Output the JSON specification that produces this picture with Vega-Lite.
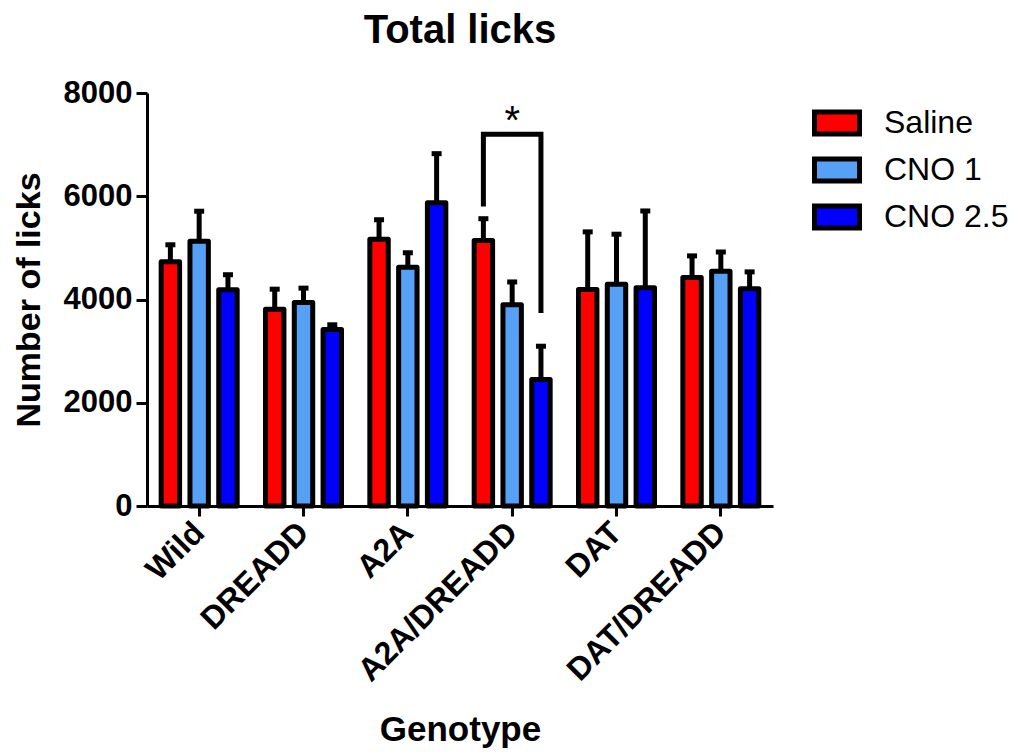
{
  "$schema": "https://vega.github.io/schema/vega-lite/v6.json",
  "autosize": {"type": "none"},
  "padding": {"left": 147, "top": 93, "right": 245, "bottom": 249},
  "width": 626,
  "height": 413,
  "background": "white",
  "config": {
    "font": "Liberation Sans",
    "view": {"stroke": null},
    "axis": {
      "domainColor": "black", "tickColor": "black", "labelColor": "black", "titleColor": "black",
      "labelFont": "Liberation Sans", "titleFont": "Liberation Sans",
      "labelFontWeight": "bold", "titleFontWeight": "bold",
      "grid": false, "domainWidth": 3, "tickWidth": 3
    },
    "axisY": {"labelFontSize": 31, "titleFontSize": 34, "tickSize": 11, "labelPadding": 4, "titlePadding": 17},
    "axisX": {"labelFontSize": 32, "titleFontSize": 35, "tickSize": 10, "labelAngle": -45, "labelAlign": "right", "labelBaseline": "middle", "labelPadding": 11, "labelLimit": 0, "titlePadding": 26}
  },
  "title": {"text": "Total licks", "fontSize": 40, "fontWeight": "bold", "font": "Liberation Sans", "color": "black", "offset": 26, "anchor": "middle"},
  "datasets": {
    "bars": [
      {"genotype": "Wild", "treatment": "Saline", "mean": 4730, "upper": 5060},
      {"genotype": "Wild", "treatment": "CNO 1", "mean": 5130, "upper": 5710},
      {"genotype": "Wild", "treatment": "CNO 2.5", "mean": 4190, "upper": 4480},
      {"genotype": "DREADD", "treatment": "Saline", "mean": 3810, "upper": 4200},
      {"genotype": "DREADD", "treatment": "CNO 1", "mean": 3940, "upper": 4220},
      {"genotype": "DREADD", "treatment": "CNO 2.5", "mean": 3420, "upper": 3510},
      {"genotype": "A2A", "treatment": "Saline", "mean": 5165, "upper": 5545},
      {"genotype": "A2A", "treatment": "CNO 1", "mean": 4625, "upper": 4905},
      {"genotype": "A2A", "treatment": "CNO 2.5", "mean": 5875, "upper": 6825},
      {"genotype": "A2A/DREADD", "treatment": "Saline", "mean": 5145, "upper": 5565},
      {"genotype": "A2A/DREADD", "treatment": "CNO 1", "mean": 3900, "upper": 4340},
      {"genotype": "A2A/DREADD", "treatment": "CNO 2.5", "mean": 2450, "upper": 3095},
      {"genotype": "DAT", "treatment": "Saline", "mean": 4195, "upper": 5310},
      {"genotype": "DAT", "treatment": "CNO 1", "mean": 4295, "upper": 5265},
      {"genotype": "DAT", "treatment": "CNO 2.5", "mean": 4230, "upper": 5715},
      {"genotype": "DAT/DREADD", "treatment": "Saline", "mean": 4425, "upper": 4845},
      {"genotype": "DAT/DREADD", "treatment": "CNO 1", "mean": 4545, "upper": 4920},
      {"genotype": "DAT/DREADD", "treatment": "CNO 2.5", "mean": 4210, "upper": 4535}
    ],
    "bracket": [
      {"genotype": "A2A/DREADD", "treatment": "Saline", "y": 5800, "ord": 1},
      {"genotype": "A2A/DREADD", "treatment": "Saline", "y": 7200, "ord": 2},
      {"genotype": "A2A/DREADD", "treatment": "CNO 2.5", "y": 7200, "ord": 3},
      {"genotype": "A2A/DREADD", "treatment": "CNO 2.5", "y": 3740, "ord": 4}
    ],
    "star": [
      {"genotype": "A2A/DREADD", "y": 7200, "label": "*"}
    ]
  },
  "encoding": {
    "x": {
      "field": "genotype", "type": "nominal",
      "sort": ["Wild", "DREADD", "A2A", "A2A/DREADD", "DAT", "DAT/DREADD"],
      "scale": {"paddingInner": 0.2716, "paddingOuter": 0.1358},
      "title": "Genotype"
    }
  },
  "layer": [
    {
      "data": {"name": "bars"},
      "mark": {"type": "rule", "color": "black", "strokeWidth": 5},
      "encoding": {
        "xOffset": {"field": "treatment", "type": "nominal", "scale": {"domain": ["Saline", "CNO 1", "CNO 2.5"], "paddingInner": 0.36, "paddingOuter": 0}},
        "y": {"field": "mean", "type": "quantitative", "scale": {"domain": [0, 8000], "nice": false}, "title": "Number of licks", "axis": {"values": [0, 2000, 4000, 6000, 8000], "format": "d"}},
        "y2": {"field": "upper"}
      }
    },
    {
      "data": {"name": "bars"},
      "mark": {"type": "tick", "color": "black", "size": 10, "thickness": 5, "opacity": 1},
      "encoding": {
        "xOffset": {"field": "treatment", "type": "nominal"},
        "y": {"field": "upper", "type": "quantitative", "title": "Number of licks"}
      }
    },
    {
      "data": {"name": "bars"},
      "mark": {"type": "bar", "stroke": "black", "strokeWidth": 5, "strokeJoin": "round", "fillOpacity": 1},
      "encoding": {
        "xOffset": {"field": "treatment", "type": "nominal"},
        "y": {"field": "mean", "type": "quantitative", "title": "Number of licks"},
        "fill": {
          "field": "treatment", "type": "nominal",
          "scale": {"domain": ["Saline", "CNO 1", "CNO 2.5"], "range": ["#ff0000", "#56a0f5", "#0000ff"]},
          "legend": {
            "orient": "none", "legendX": 665, "legendY": 5, "title": null, "padding": 0,
            "symbolType": "M-1,-0.489H1V0.489H-1Z", "symbolSize": 2025,
            "symbolStrokeColor": "black", "symbolStrokeWidth": 5, "symbolOpacity": 1,
            "labelFontSize": 32, "labelFont": "Liberation Sans", "labelColor": "black",
            "labelOffset": 22, "rowPadding": 0
          }
        }
      }
    },
    {
      "data": {"name": "bracket"},
      "mark": {"type": "line", "color": "black", "strokeWidth": 5, "strokeJoin": "miter", "strokeCap": "butt"},
      "encoding": {
        "xOffset": {"field": "treatment", "type": "nominal"},
        "y": {"field": "y", "type": "quantitative", "title": "Number of licks"},
        "order": {"field": "ord", "type": "quantitative"}
      }
    },
    {
      "data": {"name": "star"},
      "mark": {"type": "text", "fontSize": 40, "font": "Liberation Sans", "color": "black", "baseline": "alphabetic", "align": "center"},
      "encoding": {
        "y": {"field": "y", "type": "quantitative", "title": "Number of licks"},
        "text": {"field": "label"}
      }
    }
  ]
}
